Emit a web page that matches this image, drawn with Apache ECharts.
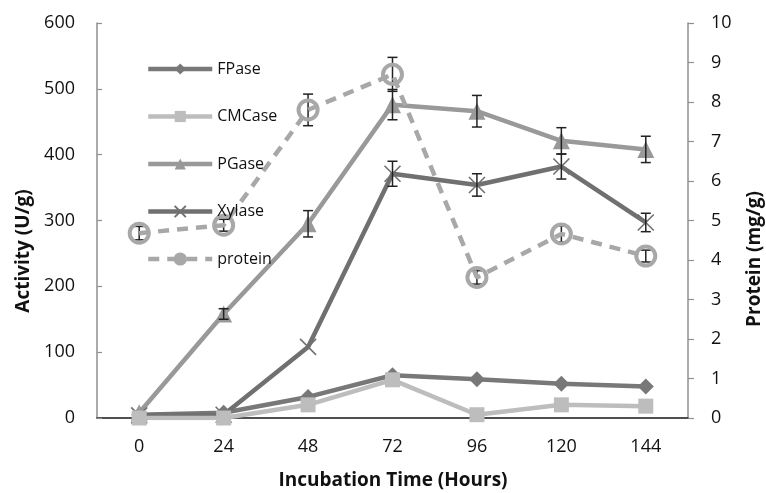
<!DOCTYPE html>
<html>
<head>
<meta charset="utf-8">
<script src="https://cdn.jsdelivr.net/npm/echarts@6/dist/echarts.min.js"></script>
<style>html,body{margin:0;padding:0;background:#fff}#chart{width:766px;height:493px}</style>
</head>
<body>
<div id="chart"></div>
<script>
// ---- data ----
var hours = ['0', '24', '48', '72', '96', '120', '144'];
var activityTicks = [0, 100, 200, 300, 400, 500, 600];
var proteinTicks = [0, 1, 2, 3, 4, 5, 6, 7, 8, 9, 10];
var fpase = [5, 8, 32, 65, 59, 52, 48];
var cmcase = [0, 0, 20, 58, 5, 20, 18];
var pgase = [8, 158, 295, 476, 466, 421, 408];
var pgaseErr = [0, 8, 20, 23, 24, 20, 20];
var xylase = [4, 5, 108, 371, 354, 382, 297];
var xylaseErr = [0, 0, 0, 19, 17, 19, 14];
var protein = [4.68, 4.88, 7.8, 8.7, 3.56, 4.66, 4.1];
var proteinErr = [0.17, 0.15, 0.4, 0.43, 0.17, 0.2, 0.15];

var FONT = '"Open Sans", "Noto Sans", sans-serif';
var TXT = '#111';

function errData(vals, errs) {
  var out = [];
  for (var i = 0; i < vals.length; i++) {
    if (errs[i] > 0) out.push([i, vals[i] - errs[i], vals[i] + errs[i]]);
  }
  return out;
}
function errRender(params, api) {
  var lo = api.coord([api.value(0), api.value(1)]);
  var hi = api.coord([api.value(0), api.value(2)]);
  var w = 5;
  var st = { stroke: '#222', lineWidth: 1.5 };
  return {
    type: 'group',
    children: [
      { type: 'line', shape: { x1: hi[0], y1: hi[1], x2: lo[0], y2: lo[1] }, style: st },
      { type: 'line', shape: { x1: hi[0] - w, y1: hi[1], x2: hi[0] + w, y2: hi[1] }, style: st },
      { type: 'line', shape: { x1: lo[0] - w, y1: lo[1], x2: lo[0] + w, y2: lo[1] }, style: st }
    ]
  };
}

var axisGray = '#8f8f8f';
var chart = echarts.init(document.getElementById('chart'), null, { renderer: 'canvas' });
var option = {
  animation: false,
  backgroundColor: '#fff',
  textStyle: { fontFamily: FONT },
  grid: { left: 97, right: 78, top: 23, bottom: 75 },
  legend: {
    orient: 'vertical',
    left: 141,
    top: 56,
    z: 10,
    itemWidth: 64,
    itemHeight: 14,
    itemGap: 31.5,
    selectedMode: false,
    lineStyle: { width: 4.5 },
    textStyle: { fontFamily: FONT, fontSize: 16, color: TXT },
    data: [
      { name: 'FPase' },
      { name: 'CMCase' },
      { name: 'PGase' },
      { name: 'Xylase' },
      { name: 'protein', itemStyle: { color: '#a8a8a8', borderColor: '#a8a8a8' } }
    ]
  },
  xAxis: [
    {
      type: 'category',
      data: hours,
      boundaryGap: true,
      axisLine: { lineStyle: { color: axisGray, width: 1.5 } },
      axisTick: { inside: true, length: 7, lineStyle: { color: axisGray, width: 1.2 } },
      axisLabel: { fontFamily: FONT, fontSize: 18, color: TXT, margin: 20 },
      splitLine: { show: false }
    },
    {
      type: 'category',
      data: hours,
      position: 'top',
      axisLine: { lineStyle: { color: '#333', width: 1.5 } },
      axisTick: { show: false },
      axisLabel: { show: false },
      splitLine: { show: false }
    }
  ],
  yAxis: [
    {
      type: 'value',
      min: activityTicks[0],
      max: activityTicks[activityTicks.length - 1],
      interval: 100,
      axisLine: { show: true, lineStyle: { color: axisGray, width: 1.5 } },
      axisTick: { show: true, inside: true, length: 5, lineStyle: { color: axisGray, width: 1.2 } },
      axisLabel: { fontFamily: FONT, fontSize: 18, color: TXT, margin: 22 },
      splitLine: { show: false }
    },
    {
      type: 'value',
      min: proteinTicks[0],
      max: proteinTicks[proteinTicks.length - 1],
      interval: 1,
      position: 'right',
      axisLine: { show: true, lineStyle: { color: axisGray, width: 1.5 } },
      axisTick: { show: true, inside: false, length: 6, lineStyle: { color: axisGray, width: 1.2 } },
      axisLabel: { fontFamily: FONT, fontSize: 18, color: TXT, margin: 23 },
      splitLine: { show: false }
    }
  ],
  graphic: [
    { type: 'text', x: 24, y: 251, rotation: Math.PI / 2,
      style: { text: 'Activity (U/g)', font: 'bold 19px ' + FONT, fill: TXT, textAlign: 'center', textVerticalAlign: 'middle' } },
    { type: 'text', x: 755, y: 259, rotation: Math.PI / 2,
      style: { text: 'Protein (mg/g)', font: 'bold 19px ' + FONT, fill: TXT, textAlign: 'center', textVerticalAlign: 'middle' } },
    { type: 'text', x: 393, y: 481,
      style: { text: 'Incubation Time (Hours)', font: 'bold 19px ' + FONT, fill: TXT, textAlign: 'center', textVerticalAlign: 'middle' } }
  ],
  series: [
    {
      name: 'FPase', type: 'line', data: fpase, yAxisIndex: 0,
      symbol: 'diamond', symbolSize: 16,
      lineStyle: { color: '#787878', width: 4.5 },
      itemStyle: { color: '#787878' }, z: 3
    },
    {
      name: 'CMCase', type: 'line', data: cmcase, yAxisIndex: 0,
      symbol: 'rect', symbolSize: 15,
      lineStyle: { color: '#bdbdbd', width: 4.5 },
      itemStyle: { color: '#bdbdbd' }, z: 4
    },
    {
      name: 'PGase', type: 'line', data: pgase, yAxisIndex: 0,
      symbol: 'triangle', symbolSize: 17,
      lineStyle: { color: '#999999', width: 4.5 },
      itemStyle: { color: '#999999' }, z: 3
    },
    {
      name: 'Xylase', type: 'line', data: xylase, yAxisIndex: 0,
      symbol: 'path://M0,0L10,10M10,0L0,10', symbolSize: 16,
      lineStyle: { color: '#707070', width: 4.5 },
      itemStyle: { color: '#707070', borderColor: '#707070', borderWidth: 1.6 }, z: 3
    },
    {
      name: 'protein', type: 'line', data: protein, yAxisIndex: 1,
      symbol: 'circle', symbolSize: 19,
      lineStyle: { color: '#a8a8a8', width: 4.5, type: [11, 8] },
      itemStyle: { color: 'rgba(255,255,255,0)', borderColor: '#a8a8a8', borderWidth: 4 }, z: 5
    },
    { type: 'custom', name: 'pgErr', xAxisIndex: 0, yAxisIndex: 0, data: errData(pgase, pgaseErr), renderItem: errRender, z: 6, silent: true },
    { type: 'custom', name: 'xyErr', xAxisIndex: 0, yAxisIndex: 0, data: errData(xylase, xylaseErr), renderItem: errRender, z: 6, silent: true },
    { type: 'custom', name: 'prErr', xAxisIndex: 0, yAxisIndex: 1, data: errData(protein, proteinErr), renderItem: errRender, z: 4, silent: true }
  ]
};
chart.setOption(option);
</script>
</body>
</html>
